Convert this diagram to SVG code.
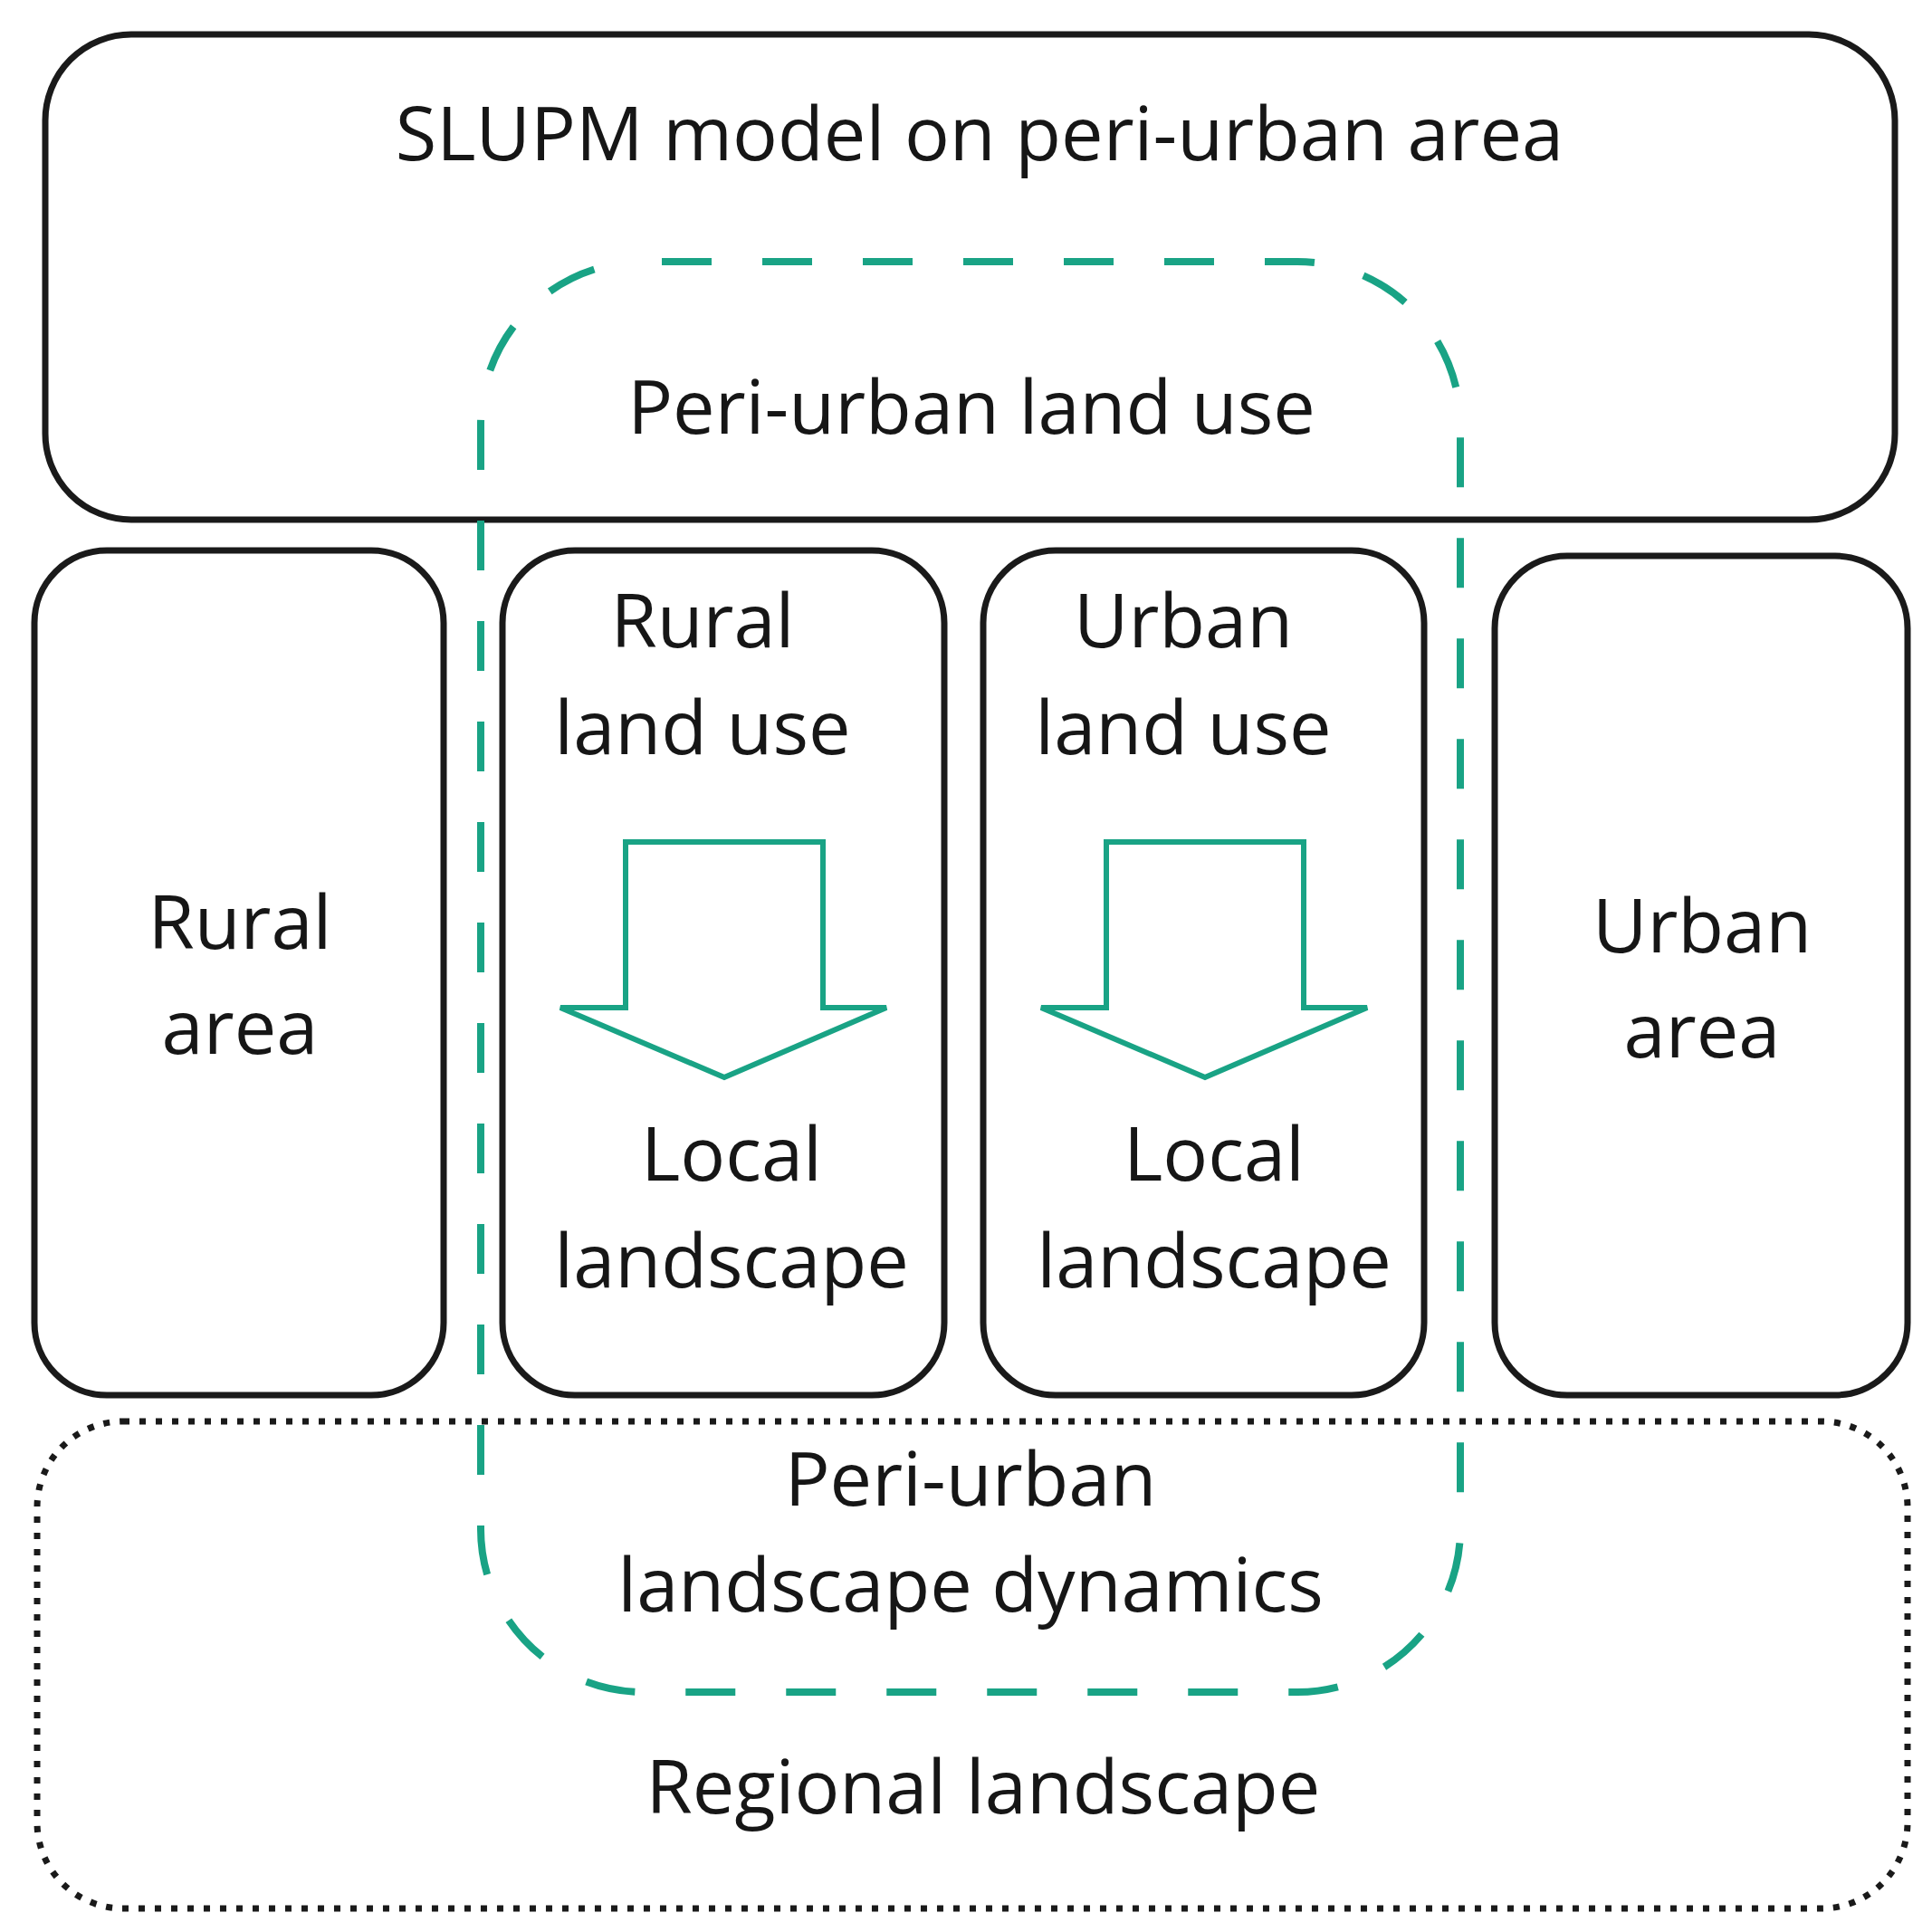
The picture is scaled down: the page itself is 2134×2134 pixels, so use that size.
<svg xmlns="http://www.w3.org/2000/svg" width="2134" height="2134" viewBox="0 0 2134 2134">
<style>
.box{fill:none;stroke:#1a1a1a;stroke-width:7}
.dot{fill:none;stroke:#1a1a1a;stroke-width:7;stroke-dasharray:7 11}
.dash{fill:none;stroke:#19a385;stroke-width:8;stroke-dasharray:55 56;stroke-dashoffset:-20}
.arrow{fill:#fff;stroke:#19a385;stroke-width:6;stroke-linejoin:miter}
text{font-family:"Open Sans","DejaVu Sans",sans-serif;font-size:83px;font-weight:400;fill:#161616;text-anchor:middle}
</style>
<rect width="2134" height="2134" fill="#fff"/>
<g id="regional">
<rect class="dot" x="41" y="1570" width="2066" height="538" rx="95" ry="95"/>
<text x="1086" y="2003">Regional landscape</text>
</g>
<g id="slupm">
<rect class="box" x="50" y="38" width="2043" height="536" rx="95" ry="95"/>
<text x="1082" y="177">SLUPM model on peri-urban area</text>
</g>
<g id="rural-area">
<rect class="box" x="38" y="608" width="452" height="933" rx="80" ry="80"/>
<text x="265" y="1048">Rural</text>
<text x="265" y="1164">area</text>
</g>
<g id="rural-land-use">
<rect class="box" x="555" y="608" width="488" height="933" rx="80" ry="80"/>
<text x="776" y="715">Rural</text>
<text x="776" y="833">land use</text>
<text x="808" y="1304">Local</text>
<text x="808" y="1422">landscape</text>
</g>
<g id="urban-land-use">
<rect class="box" x="1086" y="608" width="487" height="933" rx="80" ry="80"/>
<text x="1307" y="715">Urban</text>
<text x="1307" y="833">land use</text>
<text x="1341" y="1304">Local</text>
<text x="1341" y="1422">landscape</text>
</g>
<g id="urban-area">
<rect class="box" x="1651" y="614" width="456" height="927" rx="80" ry="80"/>
<text x="1880" y="1052">Urban</text>
<text x="1880" y="1168">area</text>
</g>
<g id="peri-urban">
<rect class="dash" x="531" y="289" width="1082" height="1580" rx="180" ry="180"/>
<text x="1073" y="479">Peri-urban land use</text>
<text x="1072" y="1663">Peri-urban</text>
<text x="1072" y="1780">landscape dynamics</text>
</g>
<g id="connectors">
<polygon class="arrow" points="691,930 909,930 909,1113 979,1113 800,1190 619,1113 691,1113"/>
<polygon class="arrow" points="1222,930 1440,930 1440,1113 1510,1113 1331,1190 1150,1113 1222,1113"/>
</g>
</svg>
